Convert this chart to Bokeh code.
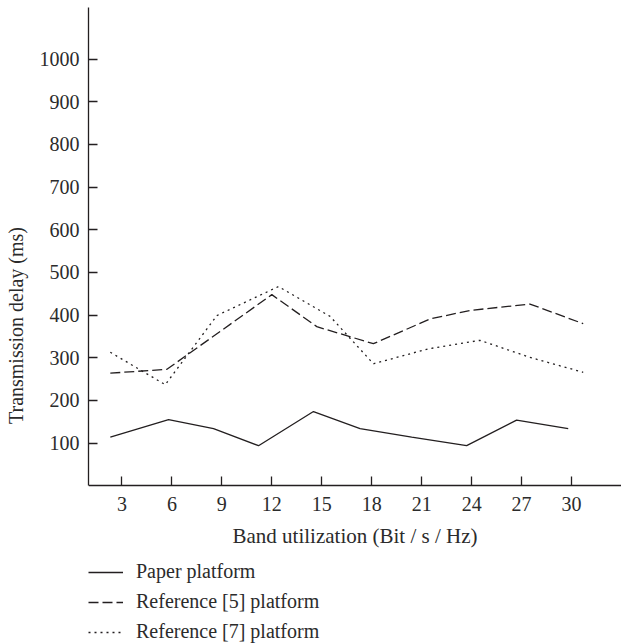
from bokeh.plotting import figure
from bokeh.models import Range1d, FixedTicker, Legend, LegendItem
from bokeh.embed import file_html
from bokeh.resources import INLINE

# ---- data ----
x_ticks = [3, 6, 9, 12, 15, 18, 21, 24, 27, 30]
y_ticks = [100, 200, 300, 400, 500, 600, 700, 800, 900, 1000]

paper_x = [2.3, 5.8, 8.5, 11.2, 14.5, 17.3, 20.4, 23.7, 26.7, 29.8]
paper_y = [114, 155, 134, 94, 174, 134, 114, 94, 154, 134]

ref5_x = [2.3, 5.7, 12.0, 14.7, 18.1, 21.5, 23.9, 27.5, 30.7]
ref5_y = [264, 273, 448, 373, 333, 391, 411, 426, 380]

ref7_x = [2.3, 5.6, 8.7, 12.4, 15.5, 18.1, 21.4, 24.5, 27.5, 30.7]
ref7_y = [313, 237, 399, 467, 397, 286, 321, 341, 301, 266]

labels = ["Paper platform", "Reference [5] platform", "Reference [7] platform"]

FONT = "Liberation Serif"
INK = "#231f20"
TEXT = "#2b2b2b"

X_START, X_END = 0.99, 33.0
Y_TOP = 1121
Y_BOTTOM = -369.6

p = figure(
    width=621, height=643,
    min_border_left=88, min_border_right=0, min_border_top=7, min_border_bottom=0,
    output_backend="svg", toolbar_location=None,
    x_range=Range1d(X_START, X_END), y_range=Range1d(Y_BOTTOM, Y_TOP),
)
p.outline_line_color = None
p.grid.visible = False
p.background_fill_color = "white"
p.border_fill_color = "white"

for ax in (p.xaxis[0], p.yaxis[0]):
    ax.axis_line_color = INK
    ax.axis_line_width = 1.3
    ax.major_tick_line_color = INK
    ax.major_tick_line_width = 1.3
    ax.major_tick_in = 9
    ax.major_tick_out = 0
    ax.minor_tick_line_color = None
    ax.major_label_text_font = FONT
    ax.major_label_text_font_size = "20px"
    ax.major_label_text_color = TEXT
    ax.axis_label_text_font = FONT
    ax.axis_label_text_font_size = "20px"
    ax.axis_label_text_font_style = "normal"
    ax.axis_label_text_color = TEXT

p.xaxis.axis_label_text_font_size = "21px"
p.xaxis.ticker = FixedTicker(ticks=x_ticks)
p.yaxis.ticker = FixedTicker(ticks=y_ticks)
p.xaxis.axis_label = "Band utilization (Bit / s / Hz)"
p.yaxis.axis_label = "Transmission delay (ms)"
p.xaxis.fixed_location = 0
p.yaxis.bounds = (0, Y_TOP)
p.xaxis.major_label_standoff = 11
p.xaxis.axis_label_standoff = 10
p.yaxis.major_label_standoff = 9
p.yaxis.axis_label_standoff = 10

r1 = p.line(paper_x, paper_y, line_color=INK, line_width=1.3)
r2 = p.line(ref5_x, ref5_y, line_color=INK, line_width=1.3, line_dash="10 4")
r3 = p.line(ref7_x, ref7_y, line_color=INK, line_width=1.3, line_dash="2 4")

legend = Legend(
    items=[LegendItem(label=labels[0], renderers=[r1]),
           LegendItem(label=labels[1], renderers=[r2]),
           LegendItem(label=labels[2], renderers=[r3])],
    location=(0, 0), orientation="vertical",
    border_line_color=None, background_fill_alpha=0,
    label_text_font=FONT, label_text_font_size="20px", label_text_color=TEXT,
    glyph_width=35, glyph_height=20, label_height=20, label_standoff=13,
    spacing=7, padding=0, margin=0,
)
p.add_layout(legend)

open("out.html", "w").write(file_html(p, INLINE))
